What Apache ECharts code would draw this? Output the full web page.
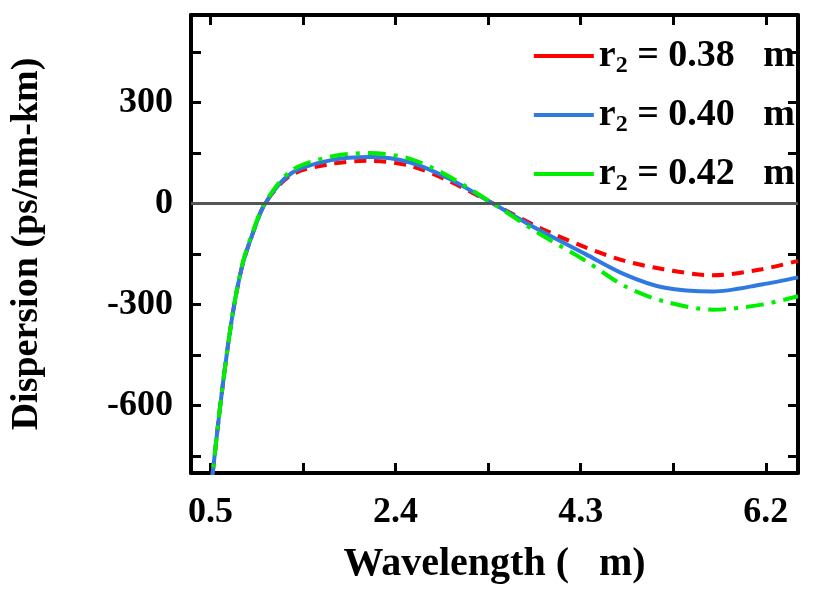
<!DOCTYPE html>
<html>
<head>
<meta charset="utf-8">
<script src="https://cdn.jsdelivr.net/npm/echarts@6/dist/echarts.min.js"></script>
<style>html,body{margin:0;padding:0;background:#fff}#main{width:830px;height:603px}</style>
</head>
<body>
<div id="main"></div>
<script>
// wavelength (um) and dispersion values
var wl = [0.5, 0.6, 0.68, 0.75, 0.83, 0.92, 1.06, 1.33, 1.74, 2.14, 2.55, 2.94, 3.4, 3.85, 4.35, 4.75, 5.15, 5.66, 6.16, 6.53];
var d038 = [-860, -600, -420, -290, -180, -100, 0, 85, 118, 127, 112, 68, 0, -68, -130, -170, -195, -213, -195, -170];
var d040 = [-860, -600, -420, -290, -180, -100, 0, 90, 129, 138, 122, 75, 0, -75, -150, -210, -249, -261, -240, -219];
var d042 = [-860, -600, -420, -288, -176, -95, 3, 98, 140, 150, 133, 82, 0, -85, -170, -245, -290, -315, -300, -275];
var xTicks = [0.5, 2.4, 4.3, 6.2];
var xMinor = [1.45, 3.35, 5.25];
var yTicks = [-600, -300, 0, 300];
var yMinor = [-750, -450, -150, 150, 450];

function pairs(ys) { return wl.map(function (x, i) { return [x, ys[i]]; }); }

var font = '"Liberation Serif", "Times New Roman", "DejaVu Serif", serif';
var myChart = echarts.init(document.getElementById('main'));
var axisLine = { show: true, onZero: false, lineStyle: { color: '#000', width: 4 } };
var xAll = xTicks.concat(xMinor), yAll = yTicks.concat(yMinor);
var tick = { inside: true, length: 10, lineStyle: { width: 3, color: '#000' } };

var option = {
    animation: false,
    grid: { left: 178, right: 32, top: 15, bottom: 130 },
    legend: {
        orient: 'vertical', right: 30, top: 32, itemGap: 18,
        itemWidth: 60, itemHeight: 4, icon: 'rect',
        textStyle: { fontFamily: font, fontWeight: 'bold', fontSize: 38, color: '#000', rich: { s: { fontFamily: font, fontWeight: 'bold', fontSize: 24, padding: [20, 0, 0, 0] } } },
        formatter: function (n) { return n.replace('r2', 'r{s|2}'); },
        data: ['r2 = 0.38   m', 'r2 = 0.40   m', 'r2 = 0.42   m']
    },
    xAxis: [{
        type: 'value', min: 0.3, max: 6.53,
        name: 'Wavelength (   m)', nameLocation: 'middle', nameGap: 72,
        nameTextStyle: { fontFamily: font, fontWeight: 'bold', fontSize: 40, color: '#000' },
        axisLine: axisLine, splitLine: { show: false },
        axisTick: Object.assign({ customValues: xAll }, tick),
        axisLabel: { customValues: xTicks, margin: 22, fontFamily: font, fontWeight: 'bold', fontSize: 36, color: '#000', formatter: function (v) { return v.toFixed(1); } }
    }, {
        type: 'value', position: 'top', min: 0.3, max: 6.53,
        axisLine: axisLine, splitLine: { show: false },
        axisTick: Object.assign({ customValues: xAll }, tick),
        axisLabel: { show: false }
    }],
    yAxis: [{
        type: 'value', min: -800, max: 560,
        name: 'Dispersion (ps/nm-km)', nameLocation: 'middle', nameGap: 145,
        nameTextStyle: { fontFamily: font, fontWeight: 'bold', fontSize: 38, color: '#000' },
        axisLine: axisLine, splitLine: { show: false },
        axisTick: Object.assign({ customValues: yAll }, tick),
        axisLabel: { customValues: yTicks, margin: 18, fontFamily: font, fontWeight: 'bold', fontSize: 36, color: '#000' }
    }, {
        type: 'value', position: 'right', min: -800, max: 560,
        axisLine: axisLine, splitLine: { show: false },
        axisTick: Object.assign({ customValues: yAll }, tick),
        axisLabel: { show: false }
    }],
    series: [{
        name: 'r2 = 0.38   m', type: 'line', smooth: 0.3, symbol: 'none', clip: true,
        data: pairs(d038), lineStyle: { color: '#ff0000', width: 4, type: [12, 8] }, itemStyle: { color: '#ff0000' },
        markLine: { silent: true, symbol: 'none', label: { show: false }, lineStyle: { color: '#555', width: 3, type: 'solid' }, data: [{ yAxis: 0 }] }
    }, {
        name: 'r2 = 0.40   m', type: 'line', smooth: 0.3, symbol: 'none', clip: true,
        data: pairs(d040), lineStyle: { color: '#2f7ae0', width: 4 }, itemStyle: { color: '#2f7ae0' }
    }, {
        name: 'r2 = 0.42   m', type: 'line', smooth: 0.3, symbol: 'none', clip: true,
        data: pairs(d042), lineStyle: { color: '#00ee00', width: 4, type: [18, 8, 4, 8] }, itemStyle: { color: '#00ee00' }
    }]
};
myChart.setOption(option);
</script>
</body>
</html>
